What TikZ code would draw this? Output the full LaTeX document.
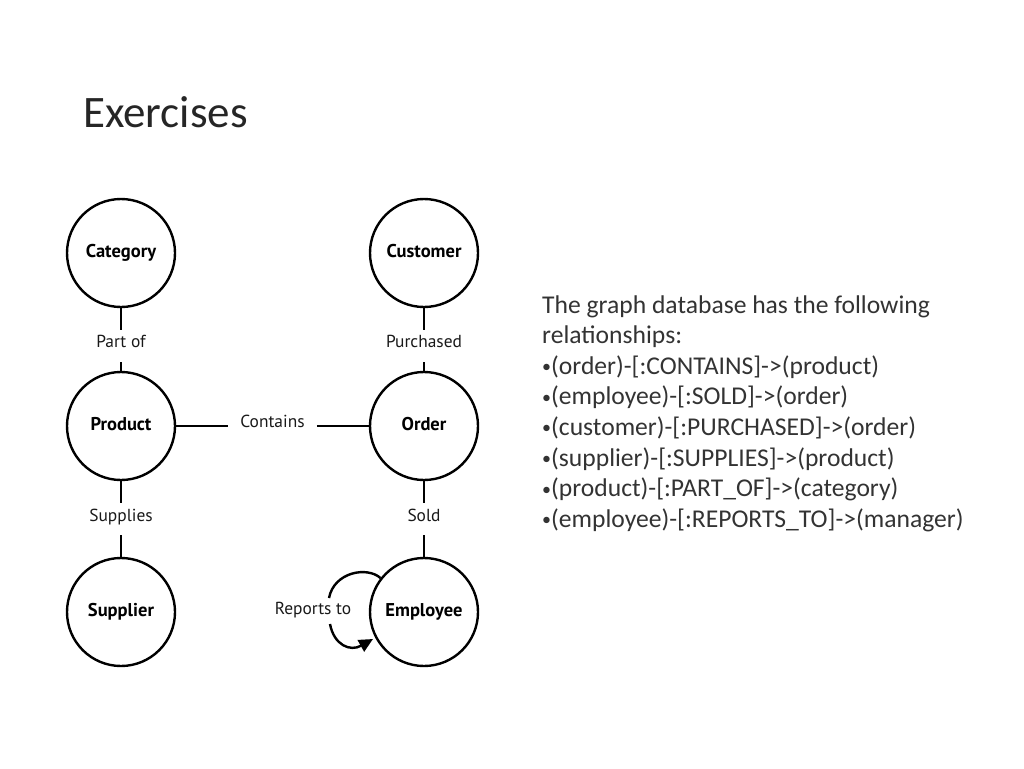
\documentclass[tikz,border=0pt]{standalone}
\usepackage{fontspec}
\setmainfont{Carlito}
\newfontfamily\nodefont{PT Sans}
\usetikzlibrary{calc,arrows.meta}
\newcommand{\smbul}{{\fontsize{18}{18}\selectfont\raisebox{1.5pt}{•}}}
\tikzset{
  ent/.style={circle, draw=black, line width=2.4pt, minimum size=108pt, inner sep=0pt,
    font=\nodefont\bfseries\fontsize{18.5}{20}\selectfont, text height=12pt, text depth=3pt},
  rel/.style={draw=black, line width=2.4pt},
  rlab/.style={font=\nodefont\fontsize{17.4}{19}\selectfont, text=black!90, inner sep=0pt, text height=11.5pt, text depth=3pt},
  body/.style={anchor=base west, inner sep=0pt, text=black!80, font=\fontsize{25.6}{30}\selectfont},
}
\begin{document}
\begin{tikzpicture}[x=1pt,y=-1pt]
\useasboundingbox (0,0) rectangle (1024,768);
\node[anchor=base west, inner sep=0pt, text=black!85, font=\fontsize{45}{54}\selectfont] (title) at (83,127) {Exercises};

% entities
\node[ent] (cat) at (121,253) {Category};
\node[ent] (cus) at (424,253) {Customer};
\node[ent] (prod) at (121,426) {Product};
\node[ent] (ord) at (424,426) {Order};
\node[ent] (sup) at (121,612) {Supplier};
\node[ent] (emp) at (424,612) {Employee};

% relationship labels
\node[rlab] (partof) at (121,343) {Part of};
\node[rlab] (purch) at (424,343) {Purchased};
\node[rlab, inner xsep=12pt] (cont) at (272.5,423) {Contains};
\node[rlab] (supl) at (121,517) {Supplies};
\node[rlab] (sold) at (424,517) {Sold};
\node[rlab] (rep) at (313,610) {Reports to};

% connectors
\draw[rel] (cat) -- ($(partof)+(0,-13)$);
\draw[rel] ($(partof)+(0,19)$) -- (prod);
\draw[rel] (cus) -- ($(purch)+(0,-13)$);
\draw[rel] ($(purch)+(0,19)$) -- (ord);
\draw[rel] (prod.east) -- (cont.west |- prod.east);
\draw[rel] (cont.east |- ord.west) -- (ord.west);
\draw[rel] (prod) -- ($(supl)+(0,-14)$);
\draw[rel] ($(supl)+(0,18)$) -- (sup);
\draw[rel] (ord) -- ($(sold)+(0,-14)$);
\draw[rel] ($(sold)+(0,18)$) -- (emp);

% self loop
\coordinate (loopa) at (329,598);
\coordinate (loopb) at (330,624);
\coordinate (loopc) at (373,639);
\draw[rel] (emp.142) .. controls (367,566) and (334,572) .. (loopa);
\draw[rel, -{Triangle[length=14pt,width=13pt]}] (loopb) .. controls (334,645) and (350,652) .. (loopc);

% text block
\foreach \i/\t/\yy in {1/{The graph database has the following}/313,
  2/{relationships:}/343.6,
  3/{\smbul(order)-[:CONTAINS]->(product)}/374.2,
  4/{\smbul(employee)-[:SOLD]->(order)}/404.8,
  5/{\smbul(customer)-[:PURCHASED]->(order)}/435.4,
  6/{\smbul(supplier)-[:SUPPLIES]->(product)}/466,
  7/{\smbul(product)-[:PART\_OF]->(category)}/496.6,
  8/{\smbul(employee)-[:REPORTS\_TO]->(manager)}/527.2}
  \node[body] (line\i) at (542,\yy) {\t};
\end{tikzpicture}
\end{document}
